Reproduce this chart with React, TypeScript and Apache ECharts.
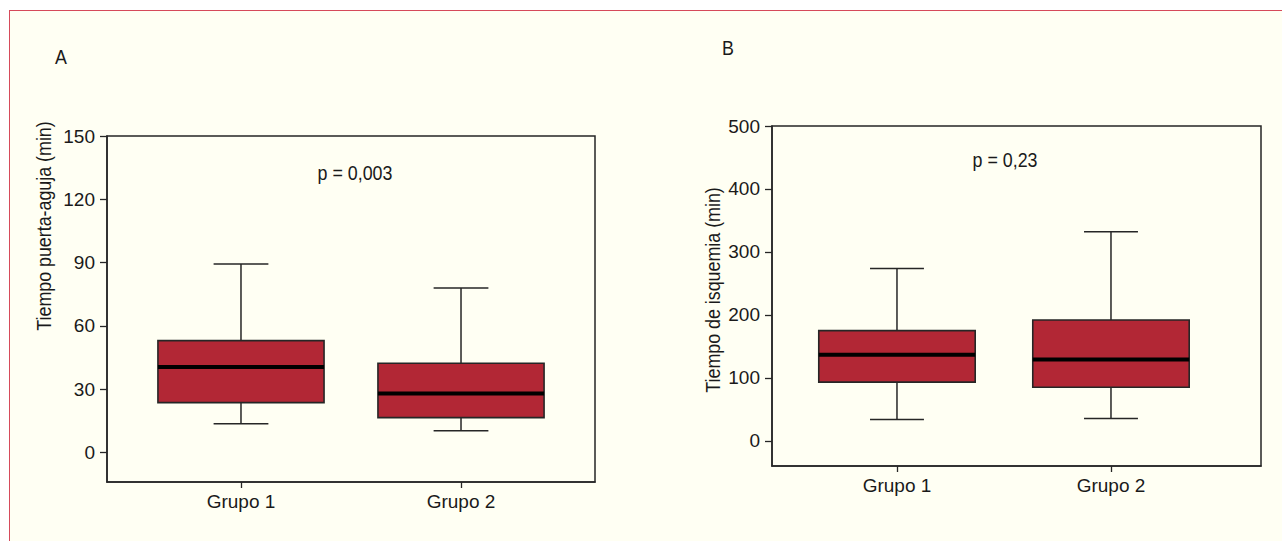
import React, { useEffect, useRef } from "react";
import * as echarts from "echarts";

const categories = ["Grupo 1", "Grupo 2"];
const categoryIndex = [0, 1];

// Panel A: Tiempo puerta-aguja (min)
const doorLow = [13.6, 10.3];
const doorQ1 = [23.6, 16.5];
const doorMedian = [40.5, 28];
const doorQ3 = [53, 42.3];
const doorHigh = [89.3, 78];
const doorTicks = [0, 30, 60, 90, 120, 150];

// Panel B: Tiempo de isquemia (min)
const ischLow = [33.8, 35.4];
const ischQ1 = [93.2, 85];
const ischMedian = [136.5, 129];
const ischQ3 = [175, 192];
const ischHigh = [273.5, 332];
const ischTicks = [0, 100, 200, 300, 400, 500];

const FONT = '"Liberation Sans", Arial, sans-serif';
const TXT = "#1a1a1a";
const FILL = "#b22735";
const EDGE = "#262626";

function buildData(lo: number[], q1: number[], med: number[], q3: number[], hi: number[]) {
  return categoryIndex.map((c, i) => [c, lo[i], q1[i], med[i], q3[i], hi[i]]);
}

function makeRender(boxUnits: number, capUnits: number) {
  return (params: any, api: any) => {
    const x = api.value(0);
    const lo = api.coord([x, api.value(1)]);
    const q1 = api.coord([x, api.value(2)]);
    const med = api.coord([x, api.value(3)]);
    const q3 = api.coord([x, api.value(4)]);
    const hi = api.coord([x, api.value(5)]);
    const unit = api.size([1, 0])[0];
    const bw = unit * boxUnits;
    const cw = unit * capUnits;
    const cx = lo[0];
    const ls = { stroke: EDGE, lineWidth: 1.5 };
    return {
      type: "group",
      children: [
        { type: "line", shape: { x1: cx, y1: hi[1], x2: cx, y2: q3[1] }, style: ls },
        { type: "line", shape: { x1: cx, y1: lo[1], x2: cx, y2: q1[1] }, style: ls },
        { type: "line", shape: { x1: cx - cw / 2, y1: hi[1], x2: cx + cw / 2, y2: hi[1] }, style: ls },
        { type: "line", shape: { x1: cx - cw / 2, y1: lo[1], x2: cx + cw / 2, y2: lo[1] }, style: ls },
        {
          type: "rect",
          shape: { x: cx - bw / 2, y: q3[1], width: bw, height: q1[1] - q3[1] },
          style: { fill: FILL, stroke: EDGE, lineWidth: 1.6 },
        },
        {
          type: "line",
          shape: { x1: cx - bw / 2, y1: med[1], x2: cx + bw / 2, y2: med[1] },
          style: { stroke: "#000", lineWidth: 4 },
        },
      ],
    };
  };
}

function yAxisFor(gridIndex: number, min: number, max: number, ticks: number[]) {
  return {
    type: "value",
    gridIndex,
    min,
    max,
    axisLine: { show: true, onZero: false, lineStyle: { color: EDGE, width: 1.5 } },
    axisTick: { show: true, length: 7, customValues: ticks, lineStyle: { color: EDGE, width: 1.3 } },
    axisLabel: { customValues: ticks, margin: 12, color: TXT, fontFamily: FONT, fontSize: 19 },
    splitLine: { show: false },
  };
}

function xAxisFor(gridIndex: number, min: number, max: number) {
  return {
    type: "value",
    gridIndex,
    min,
    max,
    axisLine: { show: true, onZero: false, lineStyle: { color: EDGE, width: 1.5 } },
    axisTick: { show: true, customValues: categoryIndex, length: 6, lineStyle: { color: EDGE, width: 1.3 } },
    axisLabel: {
      customValues: categoryIndex,
      formatter: (v: number) => categories[Math.round(v)] ?? "",
      margin: 10,
      color: TXT,
      fontFamily: FONT,
      fontSize: 19,
    },
    splitLine: { show: false },
  };
}

export default function App() {
  const ref = useRef<HTMLDivElement>(null);
  useEffect(() => {
    if (!ref.current) return;
    const chart = echarts.init(ref.current, null, { renderer: "svg" });
    const txt = (text: string, x: number, y: number, extra: any = {}) => ({
      type: "text",
      x,
      y,
      scaleX: 0.85,
      ...extra,
      style: { text, fill: TXT, font: `21px ${FONT}`, textAlign: "center", textVerticalAlign: "middle" },
    });
    chart.setOption({
      animation: false,
      backgroundColor: "transparent",
      grid: [
        { left: 107, top: 136, width: 488, height: 346, show: true, borderColor: EDGE, borderWidth: 1.5, backgroundColor: "transparent" },
        { left: 772, top: 126, width: 489, height: 340, show: true, borderColor: EDGE, borderWidth: 1.5, backgroundColor: "transparent" },
      ],
      xAxis: [xAxisFor(0, -0.609, 1.609), xAxisFor(1, -0.584, 1.701)],
      yAxis: [yAxisFor(0, -14, 150, doorTicks), yAxisFor(1, -40, 500, ischTicks)],
      series: [
        {
          type: "custom",
          xAxisIndex: 0,
          yAxisIndex: 0,
          renderItem: makeRender(0.755, 0.249),
          encode: { x: 0, y: [1, 2, 3, 4, 5] },
          data: buildData(doorLow, doorQ1, doorMedian, doorQ3, doorHigh),
        },
        {
          type: "custom",
          xAxisIndex: 1,
          yAxisIndex: 1,
          renderItem: makeRender(0.731, 0.252),
          encode: { x: 0, y: [1, 2, 3, 4, 5] },
          data: buildData(ischLow, ischQ1, ischMedian, ischQ3, ischHigh),
        },
      ],
      graphic: [
        txt("A", 61, 56),
        txt("B", 728, 47),
        txt("p = 0,003", 355, 172),
        txt("p = 0,23", 1005, 159),
        txt("Tiempo puerta-aguja (min)", 43, 226, { rotation: Math.PI / 2 }),
        txt("Tiempo de isquemia (min)", 712, 290, { rotation: Math.PI / 2 }),
      ],
    });
    return () => chart.dispose();
  }, []);

  return (
    <div style={{ position: "absolute", left: 0, top: 0, width: 1282, height: 541, background: "#ffffff", overflow: "hidden" }}>
      <div
        style={{
          position: "absolute", left: 9, top: 10, width: 1273, height: 531,
          background: "#fffff3", borderTop: "1.5px solid #d64a5a", borderLeft: "1.5px solid #d64a5a",
          boxSizing: "border-box",
        }}
      />
      <div ref={ref} style={{ position: "absolute", left: 0, top: 0, width: 1282, height: 541 }} />
    </div>
  );
}
